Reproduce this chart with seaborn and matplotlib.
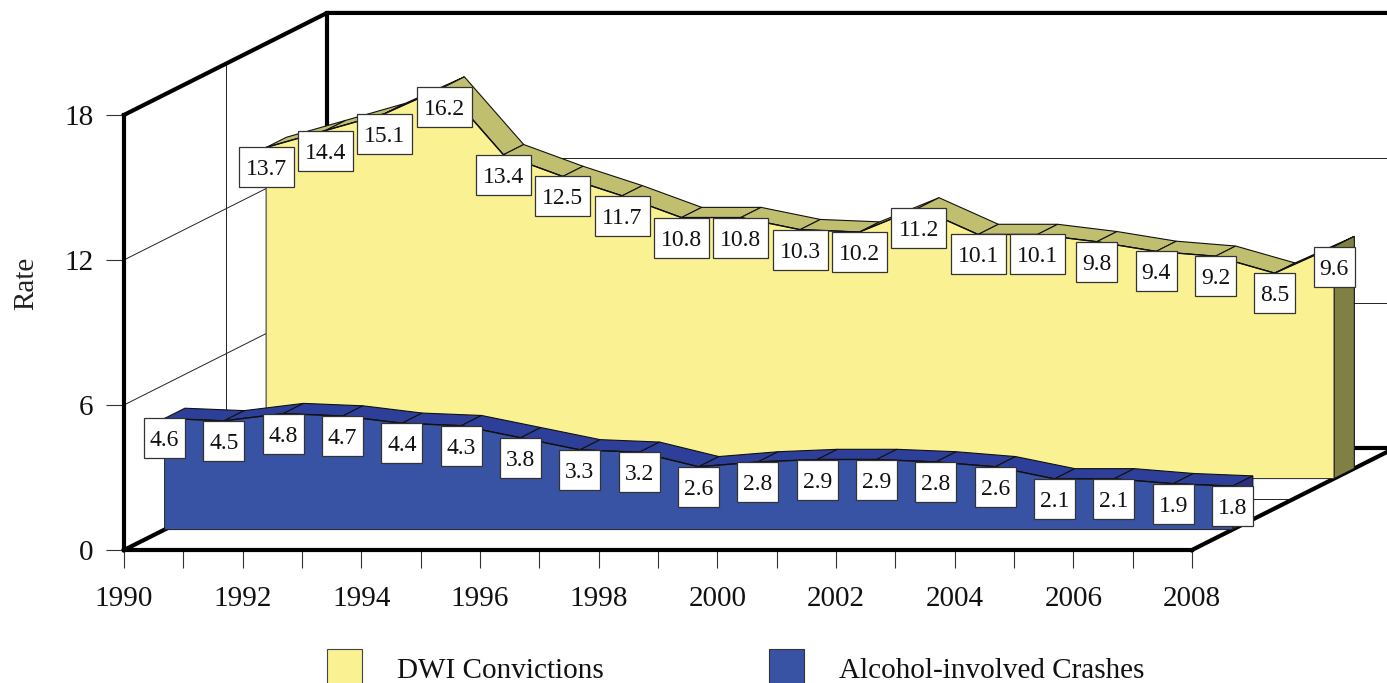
import matplotlib
matplotlib.use("Agg")
import matplotlib.pyplot as plt
from matplotlib.patches import Patch, Rectangle
import numpy as np
import pandas as pd
import seaborn as sns

years = list(range(1990, 2009))
dwi_convictions = [13.7, 14.4, 15.1, 16.2, 13.4, 12.5, 11.7, 10.8, 10.8, 10.3,
                   10.2, 11.2, 10.1, 10.1, 9.8, 9.4, 9.2, 8.5, 9.6]
alcohol_crashes = [4.6, 4.5, 4.8, 4.7, 4.4, 4.3, 3.8, 3.3, 3.2, 2.6,
                   2.8, 2.9, 2.9, 2.8, 2.6, 2.1, 2.1, 1.9, 1.8]
y_ticks = [0, 6, 12, 18]
x_tick_labels = [str(y) if y % 2 == 0 else "" for y in years]

W, H = 1387, 683
PX_X = 59.33   # pixels per year
PX_Y = 24.17   # pixels per rate unit
ORIGIN_X, ORIGIN_Y = 124, 550

# oblique depth of the whole box, in data units
DEPTH_X = 203 / PX_X
DEPTH_Y = 102 / PX_Y


def deep(x, y, d):
    """Move a point d of the way into the box."""
    return np.asarray(x, dtype=float) + d * DEPTH_X, np.asarray(y, dtype=float) + d * DEPTH_Y


sns.set_theme(style="white")
plt.rcParams["font.family"] = ["Liberation Serif", "DejaVu Serif"]

fig = plt.figure(figsize=(W / 100, H / 100), dpi=100)
ax = fig.add_axes([0, 0, 1, 1])
ax.set_xlim(1990 - ORIGIN_X / PX_X, 1990 + (W - ORIGIN_X) / PX_X)
ax.set_ylim(-(H - ORIGIN_Y) / PX_Y, ORIGIN_Y / PX_Y)

# walls and floor: thin grid first
grid = dict(color="#222222", lw=0.7, zorder=1)
for v in [6, 12]:
    xs, ys = deep([1990, 1990], [v, v], np.array([0, 1]))
    ax.plot(xs, ys, **grid)
    xs, ys = deep([1990, 2008], [v, v], 1)
    ax.plot(xs, ys, **grid)
xs, ys = deep([1990, 1990], [0, 18], 0.5)
ax.plot(xs, ys, **grid)
xs, ys = deep([1990, 2008], [0, 0], 0.5)
ax.plot(xs, ys, **grid)

# heavy frame
heavy = dict(color="black", lw=3.0, zorder=2, solid_joinstyle="miter", solid_capstyle="projecting")
xs, ys = deep([1990, 1990, 2008], [18, 18, 18], np.array([0, 1, 1]))
ax.plot(xs, ys, **heavy)
xs, ys = deep([1990, 1990], [18, 0], 1)
ax.plot(xs, ys, **heavy)
xs, ys = deep([1990, 1990, 2008, 2008], [0, 0, 0, 0], np.array([0, 1, 1, 0]))
ax.plot(xs, ys, **heavy)


def draw_series(values, d_front, d_back, face, top, side, z):
    fx, fy = deep(years, values, d_front)
    bx, by = deep(years, values, d_back)
    # ribbon along the top
    for i in range(len(years) - 1):
        ax.fill([fx[i], fx[i + 1], bx[i + 1], bx[i]], [fy[i], fy[i + 1], by[i + 1], by[i]],
                facecolor=top, edgecolor="#111111", lw=0.8, zorder=z)
    # end face on the right
    x0, y0 = deep(2008, 0, d_front)
    x1, y1 = deep(2008, 0, d_back)
    ax.fill([fx[-1], bx[-1], x1, x0], [fy[-1], by[-1], y1, y0],
            facecolor=side, edgecolor="#111111", lw=0.8, zorder=z)
    # front face
    bx0, by0 = deep(1990, 0, d_front)
    ax.fill(list(fx) + [x0, bx0], list(fy) + [y0, by0],
            facecolor=face, edgecolor="#222222", lw=0.7, zorder=z + 1)
    frame = pd.DataFrame({"x": fx, "y": fy})
    sns.lineplot(data=frame, x="x", y="y", color="#111111", lw=1.0, errorbar=None,
                 ax=ax, zorder=z + 2)
    # value boxes hang from the front edge
    box_h = 40 / PX_Y
    for x, y, v in zip(fx, fy, values):
        box_w = (55 if v >= 10 else 41) / PX_X
        ax.add_patch(Rectangle((x - box_w / 2, y - box_h), box_w, box_h, facecolor="white",
                               edgecolor="#333333", lw=0.9, zorder=30))
        ax.text(x, y - box_h / 2, f"{v:.1f}", ha="center", va="center_baseline", fontsize=17,
                color="#111111", zorder=31)


YELLOW = "#F9F192"
BLUE = "#3953A4"
draw_series(dwi_convictions, 0.7, 0.8, YELLOW, "#C0BF6F", "#808045", 4)
draw_series(alcohol_crashes, 0.2, 0.3, BLUE, "#2E3F99", "#2B2F7E", 8)

# axes
for name in ["top", "right"]:
    ax.spines[name].set_visible(False)
ax.spines["left"].set_position(("data", 1990))
ax.spines["bottom"].set_position(("data", 0))
ax.spines["left"].set_bounds(0, 18)
ax.spines["bottom"].set_bounds(1990, 2008)
for name in ["left", "bottom"]:
    ax.spines[name].set_linewidth(3.0)
    ax.spines[name].set_color("black")
    ax.spines[name].set_capstyle("projecting")
ax.set_xticks(years)
ax.set_xticklabels(x_tick_labels)
ax.set_yticks(y_ticks)
ax.tick_params(axis="both", length=13, width=0.8, color="#333333", labelsize=21,
               labelcolor="#111111", bottom=True, left=True)
ax.tick_params(axis="x", pad=13)
ax.tick_params(axis="y", pad=9)
ax.set_xlabel("")
ax.set_ylabel("Rate", fontsize=21, color="#222222")
ax.yaxis.set_label_coords(39 / W, 1 - 283 / H)

handles = [Patch(facecolor=YELLOW, edgecolor="#444444", lw=0.8, label="DWI Convictions"),
           Patch(facecolor=BLUE, edgecolor="#333333", lw=0.8, label="Alcohol-involved Crashes")]
ax.legend(handles=handles, ncol=2, loc="lower left", bbox_to_anchor=(327 / W, -5 / H),
          frameon=False, fontsize=21, handlelength=1.2, handleheight=1.67, handletextpad=1.2,
          columnspacing=5.65, borderpad=0, borderaxespad=0, labelcolor="#111111")

fig.savefig("out.png", dpi=100)
